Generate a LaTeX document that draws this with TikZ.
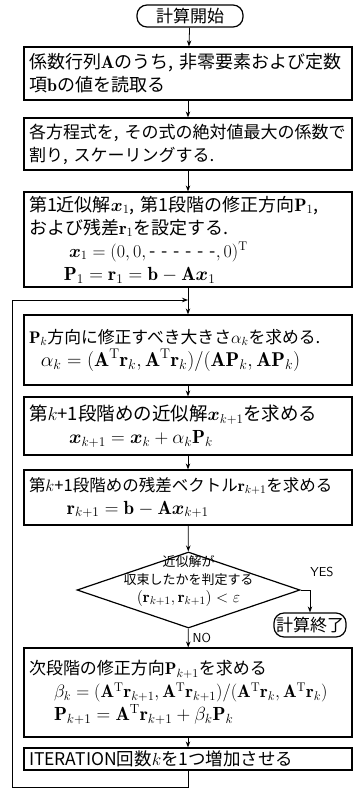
\RequirePackage{fix-cm}
\documentclass[tikz,border=0pt]{standalone}
\usepackage{amsmath,amssymb}
\usepackage{fontspec}
\usetikzlibrary{arrows.meta,shapes.geometric}
\newfontfamily\jp{Noto Sans CJK JP}
\newcommand{\myA}{\mathbf{A}}
\newcommand{\myb}{\mathbf{b}}
\newcommand{\myx}{\boldsymbol{x}}
\newcommand{\myP}{\mathbf{P}}
\newcommand{\myr}{\mathbf{r}}
\newcommand{\myT}{^{\mathrm{T}}}
\newcommand{\eqsize}{\fontsize{19}{24}\selectfont}
\newcommand{\jpsize}[1]{\fontsize{#1}{23}\selectfont}
\begin{document}
\begin{tikzpicture}[x=1pt,y=-1pt,
  box/.style={draw, line width=1.2pt, minimum width=328pt, text width=318pt,
    inner xsep=5pt, inner ysep=2pt, align=left,
    font=\jp\fontsize{17.5}{23}\selectfont},
  term/.style={draw, line width=1.2pt, rounded corners=10pt, inner sep=2pt,
    font=\jp\fontsize{17}{18}\selectfont},
  arr/.style={-{Stealth[length=6pt,width=4.5pt]}, line width=0.8pt},
  lab/.style={font=\sffamily\fontsize{13}{14}\selectfont, inner sep=1pt}]
\useasboundingbox (0,0) rectangle (357,796);

\node[term, minimum width=106pt, minimum height=22pt] (start) at (190,16) {計算開始};

\node[box, minimum height=53pt] (b1) at (188,73.5)
  {\jpsize{18}係数行列$\myA$のうち,~非零要素および定数\\項$\myb$の値を読取る};

\node[box, minimum height=52pt] (b2) at (188,144)
  {\jpsize{17}各方程式を,~その式の絶対値最大の係数で\\割り,~スケーリングする.};

\node[box, minimum height=95pt] (b3) at (188,239.5)
  {\jpsize{18}第1近似解$\myx_1$,~第1段階の修正方向$\myP_1$,\\
   および残差$\myr_1$を設定する.\\
   \hspace*{40pt}$\myx_1=(0,0,\text{- - - - - -},0)\myT$\\
   \hspace*{35pt}{\eqsize$\myP_1=\myr_1=\myb-\myA\myx_1$}};

\node[box, minimum height=70pt] (b4) at (188,350)
  {\jpsize{16.8}$\myP_k$方向に修正すべき大きさ$\alpha_k$を求める.\\
   \hspace*{12pt}{\fontsize{20}{26}\selectfont$\alpha_k=(\myA\myT\myr_k,\myA\myT\myr_k)/(\myA\myP_k,\myA\myP_k)$}};

\node[box, minimum height=58pt] (b5) at (188,426)
  {\jpsize{18.5}第$k$+1段階めの近似解$\myx_{k+1}$を求める\\
   \hspace*{40pt}{\eqsize$\myx_{k+1}=\myx_k+\alpha_k\myP_k$}};

\node[box, minimum height=55pt] (b6) at (188,497.5)
  {\jpsize{16.5}第$k$+1段階めの残差ベクトル$\myr_{k+1}$を求める\\
   \hspace*{38pt}{\eqsize$\myr_{k+1}=\myb-\myA\myx_{k+1}$}};

\node[draw, diamond, line width=1.2pt, minimum width=223pt, minimum height=76pt,
  inner sep=0pt] (dia) at (188.5,590) {};
\node[font=\jp\fontsize{13}{18}\selectfont, align=center, inner sep=0pt]
  (diat) at (188.5,581)
  {近似解が\\収束したかを判定する\\{\fontsize{16}{18}\selectfont$(\myr_{k+1},\myr_{k+1})<\varepsilon$}};

\node[term, minimum width=68pt, minimum height=24pt] (end) at (310,625) {計算終了};

\node[box, minimum height=89pt] (b7) at (188,692.5)
  {\jpsize{17}次段階の修正方向$\myP_{k+1}$を求める\\
   \hspace*{25pt}{\fontsize{18}{26}\selectfont$\beta_k=(\myA\myT\myr_{k+1},\myA\myT\myr_{k+1})/(\myA\myT\myr_k,\myA\myT\myr_k)$}\\
   \hspace*{25pt}{\eqsize$\myP_{k+1}=\myA\myT\myr_{k+1}+\beta_k\myP_k$}};

\node[box, minimum height=22pt, inner ysep=1pt] (b8) at (188,759)
  {\jpsize{17.5}ITERATION回数$k$を1つ増加させる};

\coordinate (lb) at (188,787);
\coordinate (ll) at (12,787);
\coordinate (lt) at (12,300);
\coordinate (lj) at (188,300);
\coordinate (yc) at (310,590);

\draw[arr] (start) -- (b1);
\draw[arr] (b1) -- (b2);
\draw[arr] (b2) -- (b3);
\draw[arr] (b3) -- (b4);
\draw[arr] (b4) -- (b5);
\draw[arr] (b5) -- (b6);
\draw[arr] (b6) -- (dia);
\draw[arr] (dia) -- (b7) node[lab, pos=0.5, right=3pt] (no) {NO};
\draw[arr] (dia.east) -- (yc) -- (end.north);
\node[lab] (yes) at (322,572) {YES};
\draw[arr] (b7) -- (b8);
\draw[line width=0.8pt] (b8.south) -- (lb) -- (ll) -- (lt);
\draw[arr] (lt) -- (lj);
\end{tikzpicture}
\end{document}
